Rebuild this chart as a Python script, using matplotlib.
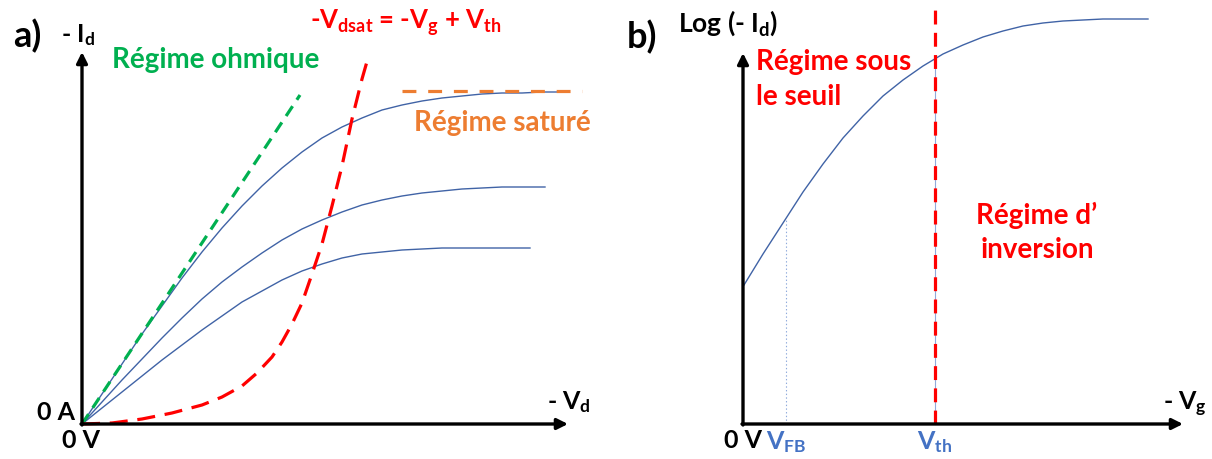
import matplotlib
matplotlib.use("Agg")
import matplotlib.pyplot as plt
import numpy as np

plt.rcParams['font.family'] = ['Lato', 'DejaVu Sans']
plt.rcParams['mathtext.default'] = 'regular'
plt.rcParams['lines.scale_dashes'] = False

# ---------------- data (panel a: -Id vs -Vd, arbitrary units) ----------------
ohmic_vd = [0, 218]
ohmic_id = [0, 329]

curve_high_vd = [0, 20, 40, 60, 80, 100, 120, 140, 160, 180, 200, 220, 240,
                 260, 280, 300, 320, 340, 360, 380, 400, 420, 440, 460, 478]
curve_high_id = [0, 30, 60, 90, 118, 146, 172, 196, 218, 238, 256, 272, 286,
                 297, 306, 314, 319, 323, 326, 328, 330, 331, 331, 332, 332]

curve_mid_vd = [0, 20, 40, 60, 80, 100, 120, 140, 160, 180, 200, 220, 240,
                260, 280, 300, 320, 340, 360, 380, 400, 420, 440, 463]
curve_mid_id = [0, 22, 44, 65, 86, 106, 125, 142, 157, 171, 184, 195, 204,
                212, 219, 224, 228, 231, 233, 235, 236, 237, 237, 237]

curve_low_vd = [0, 20, 40, 60, 80, 100, 120, 140, 160, 180, 200, 220, 240,
                260, 280, 300, 320, 340, 360, 380, 400, 448]
curve_low_id = [0, 16, 32, 48, 64, 79, 94, 108, 122, 133, 144, 153, 160,
                166, 170, 172, 174, 175, 176, 176, 176, 176]

vdsat_vd = [0, 30, 60, 90, 120, 140, 160, 175, 190, 200, 210, 220, 230, 240,
            250, 260, 270, 280, 286]
vdsat_id = [0, 1, 5, 11, 19, 27, 38, 51, 67, 82, 100, 121, 150, 180,
            218, 258, 305, 345, 366]

sat_vd = [320, 500]
sat_id = [333, 333]

# ---------------- data (panel b: log(-Id) vs -Vg) ----------------
transfer_vg = [1, 20, 40, 60, 80, 100, 120, 140, 160, 180, 200, 220, 240, 260,
               280, 300, 320, 340, 360, 380, 405]
transfer_logid = [139, 170, 201, 232, 260, 286, 308, 328, 344, 358, 370, 379,
                  387, 393, 398, 401, 403, 404, 405, 405, 405]
v_fb = 43
v_th = 192

BLUE = '#4063A6'
LBLUE = '#4472C4'
GREEN = '#00B050'
RED = '#FF0000'
ORANGE = '#ED7D31'

fig = plt.figure(figsize=(12.12, 4.59), dpi=100)

axa = fig.add_axes([0, 0, 600 / 1212, 1])
axa.set_xlim(-82, 518)
axa.set_ylim(-35, 424)
axa.axis('off')

axb = fig.add_axes([606 / 1212, 0, 606 / 1212, 1])
axb.set_xlim(-137, 469)
axb.set_ylim(-35, 424)
axb.axis('off')

arrow = dict(arrowstyle='-|>', lw=2.4, color='k', mutation_scale=16,
             shrinkA=0, shrinkB=0)

# ---- panel a ----
axa.annotate('', xy=(486, 0), xytext=(-1, 0), arrowprops=arrow)
axa.annotate('', xy=(0, 372), xytext=(0, -1), arrowprops=arrow)

for vd, idv in [(curve_high_vd, curve_high_id), (curve_mid_vd, curve_mid_id),
                (curve_low_vd, curve_low_id)]:
    axa.plot(vd, idv, color=BLUE, lw=1.0, solid_joinstyle='round')

axa.plot(ohmic_vd, ohmic_id, color=GREEN, lw=2.3, dashes=(8.5, 5.5))
axa.plot(vdsat_vd, vdsat_id, color=RED, lw=2.3, dashes=(13, 7))
axa.plot(sat_vd, sat_id, color=ORANGE, lw=2.3, dashes=(10, 8.5))

tk = dict(fontweight='bold', color='k')
axa.text(-55, 388, 'a)', fontsize=26, ha='center', va='center', **tk)
axa.text(-4, 389, r'- I$_{d}$', fontsize=18, ha='center', va='center', **tk)
axa.text(134, 364, 'Régime ohmique', fontsize=20, ha='center', va='center',
         color=GREEN, fontweight='bold')
axa.text(324, 401, r'-V$_{dsat}$ = -V$_{g}$ + V$_{th}$', fontsize=18.5,
         ha='center', va='center', color=RED, fontweight='bold')
axa.text(420, 301, 'Régime saturé', fontsize=20, ha='center', va='center',
         color=ORANGE, fontweight='bold')
axa.text(487, 22, r'- V$_{d}$', fontsize=18, ha='center', va='center', **tk)
axa.text(-26, 11, '0 A', fontsize=18, ha='center', va='center', **tk)
axa.text(-1, -16, '0 V', fontsize=18, ha='center', va='center', **tk)

# ---- panel b ----
axb.annotate('', xy=(440, 0), xytext=(-1, 0), arrowprops=arrow)
axb.annotate('', xy=(0, 371), xytext=(0, -1), arrowprops=arrow)

axb.plot(transfer_vg, transfer_logid, color=BLUE, lw=1.0)
fb_top = np.interp(v_fb, transfer_vg, transfer_logid)
th_top = np.interp(v_th, transfer_vg, transfer_logid)
axb.plot([v_fb, v_fb], [0, fb_top], color='#8FAADC', lw=0.8, ls=':')
axb.plot([v_th, v_th], [0, th_top], color='#8FAADC', lw=0.8)
axb.plot([v_th, v_th], [0, 414], color=RED, lw=2.3, dashes=(10, 6))

axb.text(-101, 387, 'b)', fontsize=26, ha='center', va='center', **tk)
axb.text(-15, 401, r'Log (- I$_{d}$)', fontsize=19, ha='center', va='center', **tk)
axb.text(13, 362, 'Régime sous', fontsize=20, ha='left', va='center',
         color=RED, fontweight='bold')
axb.text(13, 327, 'le seuil', fontsize=20, ha='left', va='center',
         color=RED, fontweight='bold')
axb.text(294, 209, 'Régime d’', fontsize=20, ha='center', va='center',
         color=RED, fontweight='bold')
axb.text(294, 174, 'inversion', fontsize=20, ha='center', va='center',
         color=RED, fontweight='bold')
axb.text(442, 20, r'- V$_{g}$', fontsize=18, ha='center', va='center', **tk)
axb.text(0, -16, '0 V', fontsize=18, ha='center', va='center', **tk)
axb.text(v_fb, -18, r'V$_{FB}$', fontsize=18, ha='center', va='center',
         color=LBLUE, fontweight='bold')
axb.text(v_th, -18, r'V$_{th}$', fontsize=18, ha='center', va='center',
         color=LBLUE, fontweight='bold')

fig.savefig('out.png', dpi=100)
